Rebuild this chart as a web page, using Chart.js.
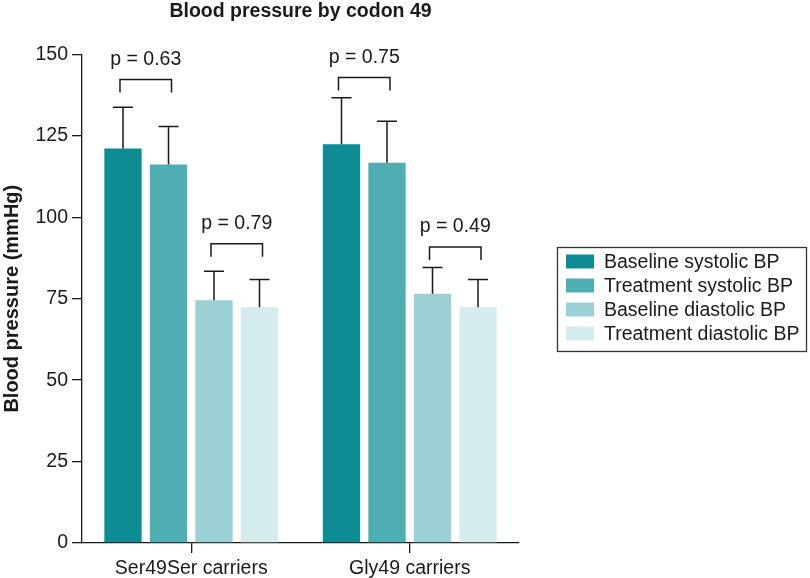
<!DOCTYPE html>
<html>
<head>
<meta charset="utf-8">
<script src="https://cdn.jsdelivr.net/npm/chart.js@4/dist/chart.umd.min.js"></script>
<style>
  html, body { margin: 0; padding: 0; background: #fff; }
  #wrap { width: 810px; height: 578px; }
</style>
</head>
<body>
<div id="wrap"><canvas id="bpChart" width="810" height="578"></canvas></div>
<script>
const categories = ["Ser49Ser carriers", "Gly49 carriers"];
const seriesNames = ["Baseline systolic BP", "Treatment systolic BP", "Baseline diastolic BP", "Treatment diastolic BP"];
const seriesColors = ["#0e8c93", "#4faeb4", "#9bd0d5", "#d5ecef"];

const baselineSystolic = [121.1, 122.4];
const treatmentSystolic = [116.2, 116.7];
const baselineDiastolic = [74.5, 76.5];
const treatmentDiastolic = [72.4, 72.4];

// upper error (SD) for each bar
const baselineSystolicSD = [12.7, 14.3];
const treatmentSystolicSD = [11.7, 12.8];
const baselineDiastolicSD = [8.9, 8.1];
const treatmentDiastolicSD = [8.5, 8.5];

// comparison brackets (height in mmHg) and their p values
const systolicBracket = [142.3, 142.9];
const diastolicBracket = [91.9, 90.9];
const systolicP = ["p = 0.63", "p = 0.75"];
const diastolicP = ["p = 0.79", "p = 0.49"];

const yMin = 0, yMax = 150, yStep = 25;

const FONT = "'Liberation Sans', Arial, Helvetica, sans-serif";
const INK = "#1a1a1a";

const errorBars = {
  id: "errorBars",
  afterDatasetsDraw(chart) {
    const { ctx } = chart;
    const y = chart.scales.y;
    ctx.save();
    ctx.strokeStyle = INK;
    ctx.lineWidth = 1.5;
    chart.data.datasets.forEach((ds, i) => {
      chart.getDatasetMeta(i).data.forEach((bar, j) => {
        const top = y.getPixelForValue(ds.data[j] + ds.errorUp[j]);
        ctx.beginPath();
        ctx.moveTo(bar.x, bar.y);
        ctx.lineTo(bar.x, top);
        ctx.moveTo(bar.x - 10, top);
        ctx.lineTo(bar.x + 10, top);
        ctx.stroke();
      });
    });

    // brackets with p values
    const pairs = [[0, 1, systolicBracket, systolicP], [2, 3, diastolicBracket, diastolicP]];
    ctx.font = "19.5px " + FONT;
    ctx.fillStyle = INK;
    ctx.textAlign = "center";
    ctx.textBaseline = "middle";
    categories.forEach((c, j) => {
      pairs.forEach(([a, b, level, label]) => {
        const x1 = chart.getDatasetMeta(a).data[j].x - 3;
        const x2 = chart.getDatasetMeta(b).data[j].x + 3;
        const top = y.getPixelForValue(level[j]);
        const leg = y.getPixelForValue(level[j] - 4);
        ctx.beginPath();
        ctx.moveTo(x1, leg);
        ctx.lineTo(x1, top);
        ctx.lineTo(x2, top);
        ctx.lineTo(x2, leg);
        ctx.stroke();
        ctx.fillText(label[j], (x1 + x2) / 2, top - 20);
      });
    });
    ctx.restore();
  }
};

const boxedLegend = {
  id: "boxedLegend",
  afterDraw(chart) {
    const { ctx } = chart;
    ctx.save();
    ctx.strokeStyle = "#333";
    ctx.lineWidth = 1.3;
    ctx.strokeRect(557.5, 247.5, 249, 104);
    ctx.font = "19.5px " + FONT;
    ctx.textAlign = "left";
    ctx.textBaseline = "middle";
    chart.data.datasets.forEach((ds, i) => {
      const cy = 261.5 + i * 24;
      ctx.fillStyle = ds.backgroundColor;
      ctx.fillRect(566, cy - 7, 28, 14);
      ctx.fillStyle = INK;
      ctx.fillText(ds.label, 604, cy + 1);
    });
    ctx.restore();
  }
};

const values = [baselineSystolic, treatmentSystolic, baselineDiastolic, treatmentDiastolic];
const errors = [baselineSystolicSD, treatmentSystolicSD, baselineDiastolicSD, treatmentDiastolicSD];

new Chart(document.getElementById("bpChart"), {
  type: "bar",
  data: {
    labels: categories,
    datasets: seriesNames.map((name, i) => ({
      label: name,
      data: values[i],
      errorUp: errors[i],
      backgroundColor: seriesColors[i],
      borderWidth: 0,
      categoryPercentage: 0.833,
      barPercentage: 0.82
    }))
  },
  options: {
    responsive: false,
    animation: false,
    layout: { padding: { left: 0, right: 291, top: 0, bottom: 0 } },
    plugins: {
      legend: { display: false },
      tooltip: { enabled: false },
      title: {
        display: true,
        text: "Blood pressure by codon 49",
        fullSize: false,
        color: INK,
        font: { family: FONT, size: 19.5, weight: "bold" },
        padding: { top: 0, bottom: 31 }
      }
    },
    scales: {
      x: {
        afterFit: (s) => { s.height = 35; },
        grid: { offset: false, drawOnChartArea: false, drawTicks: true, tickLength: 10, color: INK, lineWidth: 1.3 },
        border: { display: true, color: INK, width: 1.3 },
        ticks: { color: INK, padding: 4, font: { family: FONT, size: 19.5 } }
      },
      y: {
        min: yMin,
        max: yMax,
        afterFit: (s) => { s.width = 82; },
        grid: { drawOnChartArea: false, drawTicks: true, tickLength: 10, color: INK, lineWidth: 1.3 },
        border: { display: true, color: INK, width: 1.3 },
        ticks: { stepSize: yStep, color: INK, padding: 4, font: { family: FONT, size: 19.5 } },
        title: {
          display: true,
          text: "Blood pressure (mmHg)",
          color: INK,
          padding: 0,
          font: { family: FONT, size: 20, weight: "bold" }
        }
      }
    }
  },
  plugins: [errorBars, boxedLegend]
});
</script>
</body>
</html>
